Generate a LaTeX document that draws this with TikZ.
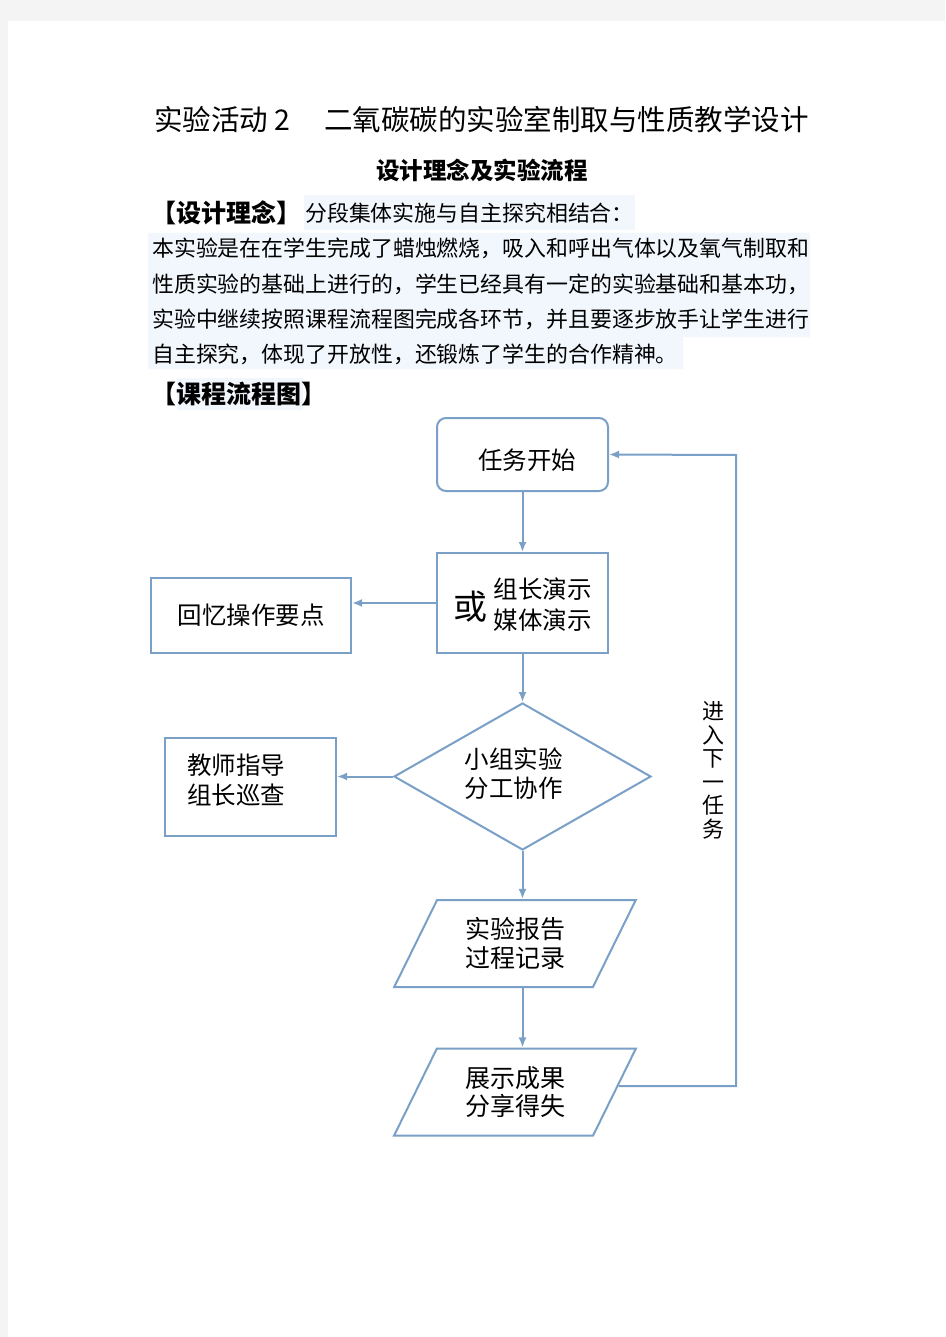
\documentclass[tikz,border=0pt]{standalone}
\usepackage{fontspec}
\setmainfont{Noto Sans CJK SC}
\usetikzlibrary{arrows.meta, shapes.geometric}
\usepackage{xcolor}
\definecolor{flowblue}{RGB}{122,160,200}
\definecolor{markblue}{RGB}{242,247,253}
\definecolor{pagegray}{RGB}{244,244,244}

\begin{document}
\begin{tikzpicture}[x = 1pt, y = -1pt, >={Latex[length=10pt, width=8pt]}, inner sep = 0pt]
			\tikzstyle{box} = [draw=flowblue, line width=2pt, rectangle, font=\fontsize{24.5}{30}\selectfont]
			\tikzstyle{startbox} = [box, rounded corners=9pt]
			\tikzstyle{decide} = [box, diamond, aspect=1.75, minimum width=257, minimum height=147]
			\tikzstyle{slant} = [box, trapezium, trapezium left angle=62, trapezium right angle=118, trapezium stretches=true, minimum width=242, minimum height=87, align=center, font=\fontsize{25}{28.5}\selectfont]
			\tikzstyle{flow} = [draw=flowblue, line width=2pt]
			\tikzstyle{body} = [anchor=west, font=\fontsize{21.9}{22}\selectfont]

			% page
			\fill[pagegray] (0,0) rectangle (945,1337);
			\fill[white] (8,21) rectangle (945,1337);
			\useasboundingbox (0,0) rectangle (945,1337);

			% highlights
			\fill[markblue] (148,233) -- (810,233) -- (810,337) -- (683,337) -- (683,369) -- (148,369) -- cycle;
			\fill[markblue] (177,378) rectangle (303,410);

			% heading text
			\node[anchor=west, font=\fontsize{28.5}{30}\selectfont] at (154,120) (title1) {实验活动 2};
			\node[anchor=east, font=\fontsize{28.5}{30}\selectfont] at (809,120) (title2) {二氧碳碳的实验室制取与性质教学设计};
			\node[font=\bfseries\fontsize{23.5}{24}\selectfont] at (482,170) (subtitle) {设计理念及实验流程};
			\node[anchor=west, font=\bfseries\fontsize{25}{26}\selectfont] at (151,213) (idea) {【设计理念】};
			\node[body, fill=markblue, minimum height=35, inner xsep=1pt] at (304,213) (ideatext) {分段集体实施与自主探究相结合：};
			\node[body] at (152,248) (line1) {本实验是在在学生完成了蜡烛燃烧，吸入和呼出气体以及氧气制取和};
			\node[body] at (152,284) (line2) {性质实验的基础上进行的，学生已经具有一定的实验基础和基本功，};
			\node[body] at (152,319) (line3) {实验中继续按照课程流程图完成各环节，并且要逐步放手让学生进行};
			\node[body] at (152,354) (line4) {自主探究，体现了开放性，还锻炼了学生的合作精神。};
			\node[anchor=west, font=\bfseries\fontsize{25}{26}\selectfont] at (151,394) (chart) {【课程流程图】};

			% flow chart
			\node[startbox, minimum width=171, minimum height=73] at (522.5,454.5) (start) {\raisebox{-6pt}[\height][\depth]{\hspace{9pt}任务开始}};
			\node[box, minimum width=171, minimum height=100] at (522.5,603) (demo)
				{\raisebox{-5pt}[\height][\depth]{\raisebox{-5pt}{\fontsize{34}{34}\selectfont 或}\hspace{6pt}\begin{tabular}{@{}l@{}}组长演示\\[1pt]媒体演示\end{tabular}}};
			\node[box, minimum width=200, minimum height=75] at (251,615.5) (recall) {回忆操作要点};
			\node[decide] at (522.5,776.5) (group) {\begin{tabular}{@{}c@{}}小组实验\\[-1pt]分工协作\end{tabular}\rule{18pt}{0pt}};
			\node[box, minimum width=171, minimum height=98] at (250.5,787) (teacher) {\raisebox{4pt}[\height][\depth]{\begin{tabular}{@{}l@{}}教师指导\\组长巡查\end{tabular}}\rule{29pt}{0pt}};
			\node[slant] at (515,943.5) (report) {实验报告\\过程记录};
			\node[slant] at (515,1092) (share) {展示成果\\分享得失};
			\coordinate (back) at (736,455);

			\draw[flow, ->] (start) -- (demo);
			\draw[flow, ->] (demo.west) -- (demo.west -| recall.east);
			\draw[flow, ->] (demo) -- (group);
			\draw[flow, ->] (group.west) -- (group.west -| teacher.east);
			\draw[flow, ->] (group.south) -- (group.south |- report.north);
			\draw[flow, ->] (report.south -| start.south) -- (share.north -| start.south);
			\draw[flow, ->] ([shift={(3pt,6pt)}]share.east) -| node[pos=0.75, left=11pt, font=\fontsize{22}{23.5}\selectfont, align=center, text=black] {进\\入\\下\\一\\任\\务} (back) -- (start.east);
		\end{tikzpicture}
\end{document}
